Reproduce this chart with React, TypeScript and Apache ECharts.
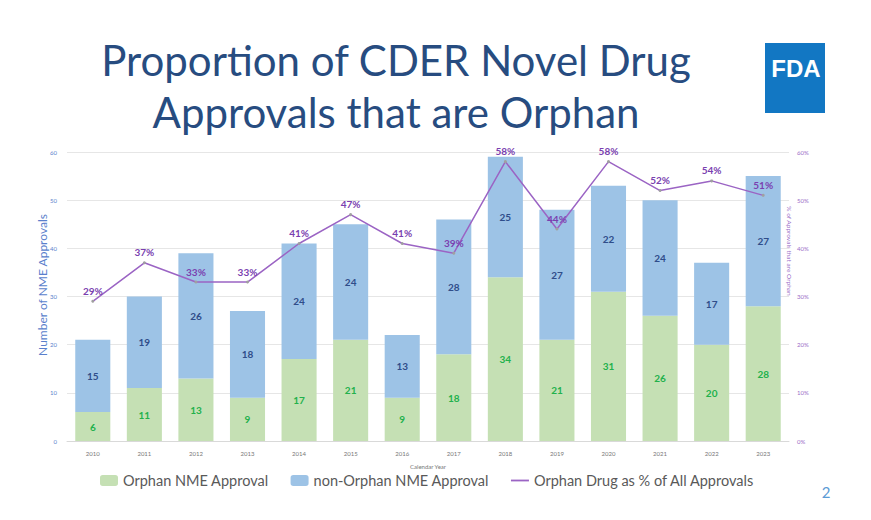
import React, { useEffect, useRef } from "react";
import * as echarts from "echarts";

const years = ["2010","2011","2012","2013","2014","2015","2016","2017","2018","2019","2020","2021","2022","2023"];
const orphan = [6, 11, 13, 9, 17, 21, 9, 18, 34, 21, 31, 26, 20, 28];
const nonOrphan = [15, 19, 26, 18, 24, 24, 13, 28, 25, 27, 22, 24, 17, 27];
const orphanPct = [29, 37, 33, 33, 41, 47, 41, 39, 58, 44, 58, 52, 54, 51];
const leftTicks = [0, 10, 20, 30, 40, 50, 60];
const rightTicks = [0, 10, 20, 30, 40, 50, 60];

export default function App() {
  const ref = useRef<HTMLDivElement>(null);
  useEffect(() => {
    if (!ref.current) return;
    const chart = echarts.init(ref.current, undefined, { renderer: "svg" });
    const font = "Lato, 'Open Sans', sans-serif";
    chart.setOption({
      animation: false,
      backgroundColor: "#ffffff",
      textStyle: { fontFamily: font },
      grid: { left: 67, right: 82, top: 152, bottom: 79 },
      legend: {
        left: 95,
        top: 468,
        itemWidth: 18,
        itemHeight: 11,
        itemGap: 22,
        textStyle: { fontSize: 14.5, color: "#595959", fontFamily: font },
        data: [
          { name: "Orphan NME Approval" },
          { name: "non-Orphan NME Approval" },
          {
            name: "Orphan Drug as % of All Approvals",
            icon: "path://M0,0h20v2h-20z",
            itemStyle: { color: "#9b64c4" },
          },
        ],
      },
      xAxis: {
        type: "category",
        data: years,
        name: "Calendar Year",
        nameLocation: "middle",
        nameGap: 22,
        nameTextStyle: { fontSize: 6, color: "#777777" },
        axisLine: { lineStyle: { color: "#d9d9d9" } },
        axisTick: { show: false },
        axisLabel: { fontSize: 6, color: "#777777", margin: 9 },
      },
      yAxis: [
        {
          type: "value",
          min: leftTicks[0],
          max: leftTicks[leftTicks.length - 1],
          interval: 10,
          axisLabel: { fontSize: 6, color: "#5a7fcc", margin: 10 },
          splitLine: { lineStyle: { color: "#e6e6e6" } },
          axisLine: { show: false },
          axisTick: { show: false },
        },
        {
          type: "value",
          min: rightTicks[0],
          max: rightTicks[rightTicks.length - 1],
          interval: 10,
          position: "right",
          axisLabel: { fontSize: 6, color: "#9a6cc7", margin: 8, formatter: "{value}%" },
          splitLine: { show: false },
          axisLine: { show: false },
          axisTick: { show: false },
        },
      ],
      series: [
        {
          name: "Orphan NME Approval",
          type: "bar",
          stack: "total",
          data: orphan,
          barWidth: "68%",
          itemStyle: { color: "#c5e0b4" },
          label: { show: true, position: "inside", fontSize: 10, fontWeight: "bold", color: "#22b14c" },
        },
        {
          name: "non-Orphan NME Approval",
          type: "bar",
          stack: "total",
          data: nonOrphan,
          barWidth: "68%",
          itemStyle: { color: "#9dc3e6" },
          label: { show: true, position: "inside", fontSize: 10, fontWeight: "bold", color: "#2f4d8a" },
        },
        {
          name: "Orphan Drug as % of All Approvals",
          type: "line",
          yAxisIndex: 1,
          data: orphanPct,
          symbol: "circle",
          symbolSize: 3,
          lineStyle: { color: "#9b64c4", width: 1.5 },
          itemStyle: { color: "#a0a0a0" },
          label: {
            show: true,
            position: "top",
            distance: 4,
            fontSize: 10,
            fontWeight: "bold",
            color: "#7a3fb0",
            formatter: "{c}%",
          },
          z: 5,
        },
      ],
      graphic: [
        {
          type: "text",
          x: 396,
          y: 86,
          style: {
            text: "Proportion of CDER Novel Drug\nApprovals that are Orphan",
            fontSize: 42,
            lineHeight: 52,
            fontFamily: font,
            fill: "#274c80",
            textAlign: "center",
            textVerticalAlign: "middle",
          },
        },
        {
          type: "text",
          x: 42,
          y: 285,
          rotation: Math.PI / 2,
          style: {
            text: "Number of NME Approvals",
            fontSize: 12,
            fontFamily: font,
            fill: "#5a7fcc",
            textAlign: "center",
            textVerticalAlign: "middle",
          },
        },
        {
          type: "text",
          x: 789,
          y: 251,
          rotation: -Math.PI / 2,
          style: {
            text: "% of Approvals that are Orphan",
            fontSize: 6.5,
            fontFamily: font,
            fill: "#9a6cc7",
            textAlign: "center",
            textVerticalAlign: "middle",
          },
        },
        {
          type: "rect",
          shape: { x: 765, y: 43, width: 60, height: 70 },
          style: { fill: "#1277c3" },
        },
        {
          type: "text",
          x: 796,
          y: 68,
          style: {
            text: "FDA",
            fontSize: 24,
            fontWeight: "bold",
            fontFamily: "'Liberation Sans', Arial, sans-serif",
            fill: "#ffffff",
            textAlign: "center",
            textVerticalAlign: "middle",
          },
        },
        {
          type: "text",
          x: 826,
          y: 492,
          style: {
            text: "2",
            fontSize: 15,
            fontFamily: font,
            fill: "#5b9bd5",
            textAlign: "center",
            textVerticalAlign: "middle",
          },
        },
      ],
    });
    return () => chart.dispose();
  }, []);
  return <div ref={ref} style={{ width: 871, height: 520, position: "fixed", left: 0, top: 0 }} />;
}
